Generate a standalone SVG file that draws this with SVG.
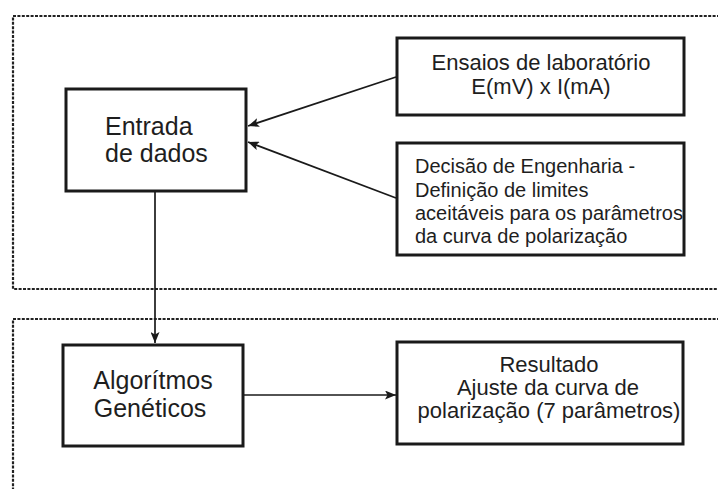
<svg xmlns="http://www.w3.org/2000/svg" width="718" height="489" viewBox="0 0 718 489">
<defs>
<marker id="arr" viewBox="0 0 11 9" refX="11" refY="4.5" markerWidth="11" markerHeight="9" markerUnits="userSpaceOnUse" orient="auto">
<path d="M0,0 L11,4.5 L0,9 L2.5,4.5 Z" fill="#1a1a1a"/>
</marker>
</defs>
<style>
.frame{fill:none;stroke:#222;stroke-width:2.2;stroke-dasharray:3 1.4}
.box{fill:#fff;stroke:#1a1a1a;stroke-width:3}
.t{font-family:"Liberation Sans",Arial,sans-serif;fill:#1e1e1e}
.big{font-size:25px}
.mid{font-size:22px}
.sm{font-size:20px}
.conn{fill:none;stroke:#1a1a1a;stroke-width:1.7;marker-end:url(#arr)}
</style>
<rect width="718" height="489" fill="#fff"/>
<g id="frames">
<path class="frame" d="M720,16 H13 V289 H720"/>
<path class="frame" d="M720,319 H13 V492"/>
</g>
<g id="entrada">
<rect class="box" x="66" y="89" width="180" height="102"/>
<text class="t big" x="105" y="135">Entrada</text>
<text class="t big" x="105" y="162">de dados</text>
</g>
<g id="ensaios">
<rect class="box" x="397" y="38" width="287" height="77"/>
<text class="t mid" x="541" y="70" text-anchor="middle">Ensaios de laboratório</text>
<text class="t mid" x="541" y="94" text-anchor="middle">E(mV) x I(mA)</text>
</g>
<g id="decisao">
<rect class="box" x="397" y="143" width="287" height="112"/>
<text class="t sm" x="415" y="173">Decisão de Engenharia -</text>
<text class="t sm" x="415" y="197">Definição de limites</text>
<text class="t sm" x="415" y="220">aceitáveis para os parâmetros</text>
<text class="t sm" x="415" y="243">da curva de polarização</text>
</g>
<g id="algoritmos">
<rect class="box" x="63" y="345" width="180" height="101"/>
<text class="t big" x="153" y="389" text-anchor="middle">Algorítmos</text>
<text class="t big" x="150" y="417" text-anchor="middle">Genéticos</text>
</g>
<g id="resultado">
<rect class="box" x="397" y="342" width="286" height="102"/>
<text class="t mid" x="549" y="372" text-anchor="middle">Resultado</text>
<text class="t mid" x="548" y="395" text-anchor="middle">Ajuste da curva de</text>
<text class="t mid" x="549" y="418" text-anchor="middle">polarização (7 parâmetros)</text>
</g>
<g id="connectors">
<line class="conn" x1="396" y1="77" x2="248" y2="126"/>
<line class="conn" x1="396" y1="198" x2="248" y2="142"/>
<line class="conn" x1="155" y1="192" x2="155" y2="343"/>
<line class="conn" x1="244" y1="395" x2="396" y2="395"/>
</g>
</svg>
